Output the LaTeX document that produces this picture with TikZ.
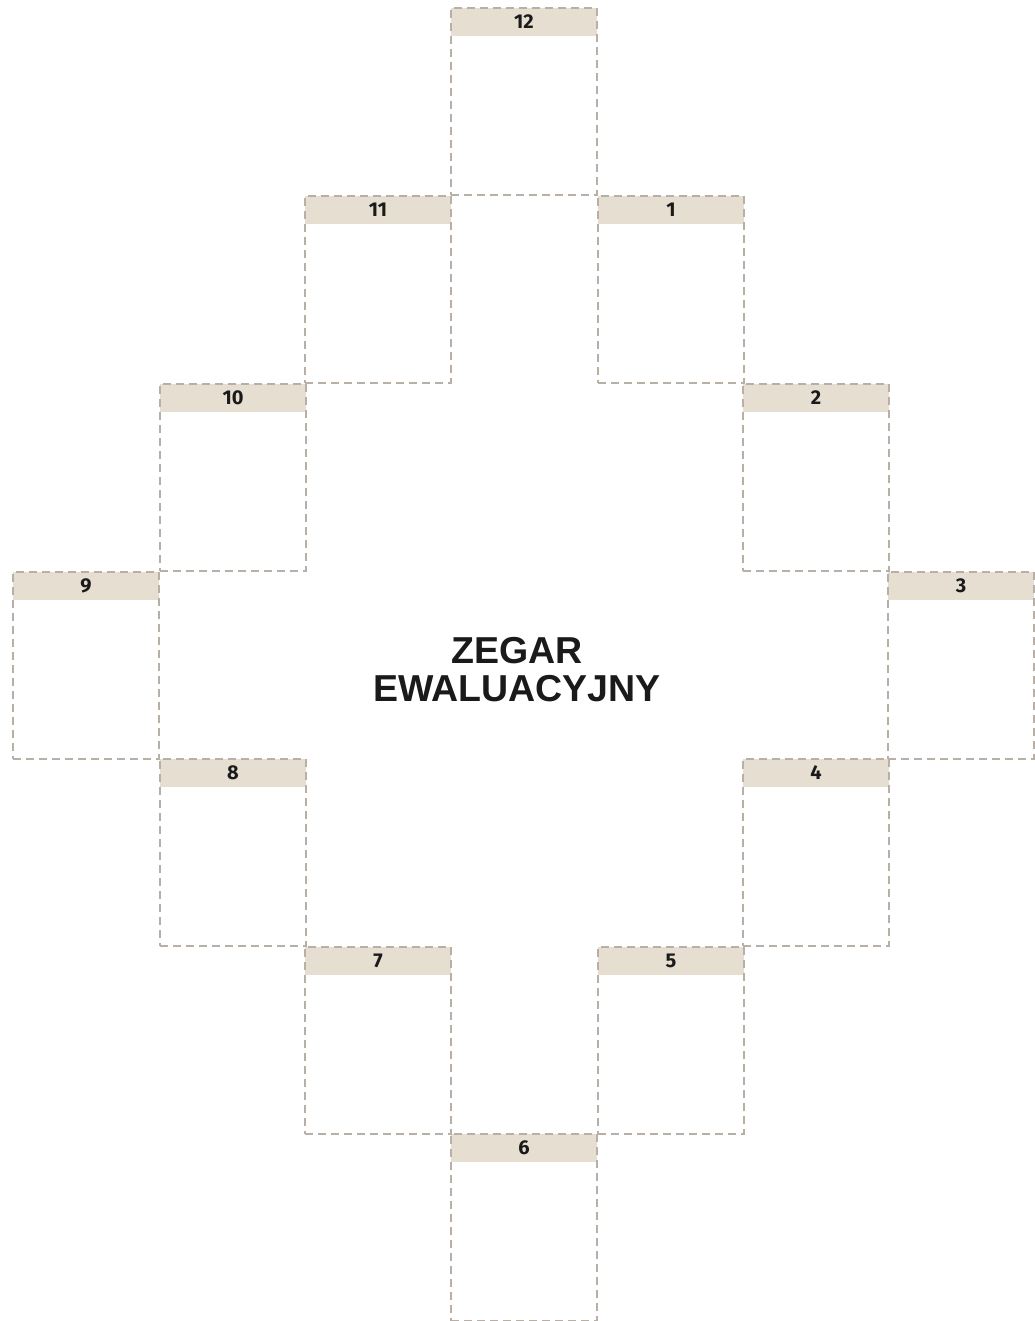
\documentclass[tikz,border=0pt]{standalone}
\usepackage{fontspec}
\setmainfont{Liberation Sans}
\newfontfamily\numfont{Fira Sans}
\definecolor{hdrfill}{HTML}{E6DED0}
\definecolor{dashcol}{HTML}{B8B0A6}
\definecolor{txt}{HTML}{1A1A1A}
\begin{document}
\begin{tikzpicture}[x=1pt,y=-1pt,
  cellbox/.style={draw=dashcol, line width=1.4pt, dash pattern=on 8pt off 5pt,
    minimum width=146pt, minimum height=187pt, inner sep=0pt, outer sep=0pt, anchor=north west},
  hdrbox/.style={fill=hdrfill, minimum width=146pt, minimum height=28pt, inner sep=0pt,
    outer sep=0pt, anchor=north west, text=txt, font=\numfont\bfseries\fontsize{20}{20}\selectfont},
  titlebox/.style={align=center, text=txt, font=\bfseries\fontsize{37.5}{38}\selectfont}
]
\useasboundingbox (0,0) rectangle (1034,1321);
\fill[white] (0,0) rectangle (1034,1321);
% headers
\node[hdrbox] (h12) at (451,8) {12};
\node[hdrbox] (h1) at (598,196) {1};
\node[hdrbox] (h11) at (305,196) {11};
\node[hdrbox] (h2) at (743,384) {2};
\node[hdrbox] (h10) at (160,384) {10};
\node[hdrbox] (h3) at (888,572) {3};
\node[hdrbox] (h9) at (13,572) {9};
\node[hdrbox] (h4) at (743,759) {4};
\node[hdrbox] (h8) at (160,759) {8};
\node[hdrbox] (h5) at (598,947) {5};
\node[hdrbox] (h7) at (305,947) {7};
\node[hdrbox] (h6) at (451,1134) {6};
% boxes
\foreach \n in {12,1,11,2,10,3,9,4,8,5,7,6}
  \node[cellbox] (b\n) at (h\n.north west) {};
% title
\node[titlebox] (title) at (517,670) {ZEGAR\\EWALUACYJNY};
\end{tikzpicture}
\end{document}
